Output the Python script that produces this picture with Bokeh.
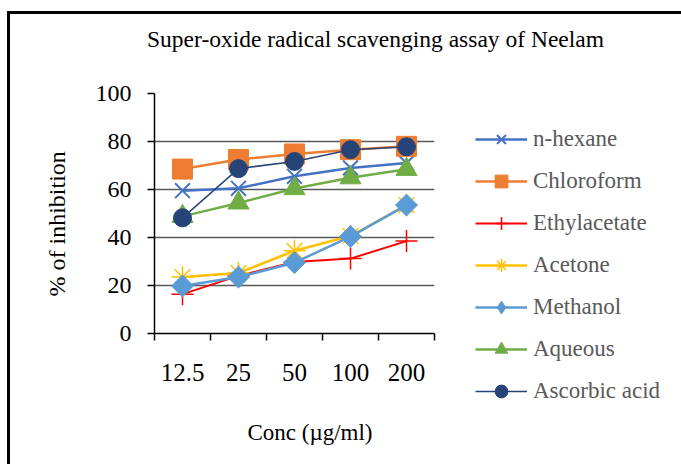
import numpy as np
from bokeh.plotting import figure
from bokeh.layouts import column, row
from bokeh.models import (Range1d, FixedTicker, Legend, LegendItem, Title, Label,
                          InlineStyleSheet)
from bokeh.embed import file_html
from bokeh.resources import INLINE

# ---- data ----
conc = ["12.5", "25", "50", "100", "200"]
n_hexane = [59.5, 60.5, 65.5, 69, 71]
chloroform = [68.5, 72.5, 74.8, 76.6, 78]
ethylacetate = [16.4, 24, 29.8, 31.2, 38.5]
acetone = [23.5, 25.2, 34.5, 40.6, 53.5]
methanol = [19.8, 23.5, 29.5, 40.4, 53.5]
aqueous = [48.8, 54.4, 60.4, 64.9, 68.4]
ascorbic = [48.2, 68.7, 71.7, 76.6, 77.8]

names = ["n-hexane", "Chloroform", "Ethylacetate", "Acetone", "Methanol",
         "Aqueous", "Ascorbic acid"]
series = [n_hexane, chloroform, ethylacetate, acetone, methanol, aqueous, ascorbic]
colors = ["#4472C4", "#ED7D31", "#FF0000", "#FFC000", "#5B9BD5", "#70AD47", "#264478"]
markers = ["x", "square", "cross", "asterisk", "square", "triangle", "circle"]
leg_markers = ["x", "square", "cross", "asterisk", "diamond", "triangle", "circle"]
msizes = [21, 20, 22, 22, 15.5, 21, 18]
angles = [0, 0, 0, 0, np.pi / 4, 0, 0]
lwidths = [2.5, 2.5, 2, 2.5, 2.5, 2.5, 1.5]
mline = [2, 1, 1.5, 1.5, 1, 1, 1]

FONT = "Liberation Serif"
title_text = "Super-oxide radical scavenging assay of Neelam"
xlabel_text = "Conc (µg/ml)"
ylabel_text = "% of inhibition"

x = np.arange(len(conc)) + 0.5


def blank(fig):
    fig.outline_line_color = None
    fig.background_fill_color = "white"
    fig.border_fill_color = "white"
    fig.min_border = 0
    fig.grid.visible = False
    if "frame_align" in fig.properties():
        fig.frame_align = False


def strip(w, h):
    f = figure(width=w, height=h, output_backend="svg", toolbar_location=None,
               x_range=Range1d(0, 1), y_range=Range1d(0, 1),
               x_axis_type=None, y_axis_type=None)
    blank(f)
    return f


# ---- title strip ----
top = strip(681, 60)
top.add_layout(Label(x=375, y=22, x_units="screen", y_units="screen",
                     text=title_text, text_font=FONT, text_font_size="23.5px",
                     text_color="black", text_align="center",
                     text_baseline="middle"))

# ---- main chart ----
p = figure(width=454, height=350, output_backend="svg", toolbar_location=None,
           x_range=Range1d(0, len(conc)), y_range=Range1d(0, 100),
           min_border_left=154, min_border_right=20, min_border_top=33,
           min_border_bottom=77)
p.outline_line_color = None
p.background_fill_color = "white"
p.border_fill_color = "white"
if "frame_align" in p.properties():
    p.frame_align = False

p.xaxis.ticker = FixedTicker(ticks=list(x), minor_ticks=list(range(len(conc) + 1)))
p.xaxis.major_label_overrides = {float(xx): c for xx, c in zip(x, conc)}
p.xaxis.major_tick_out = 0
p.xaxis.major_tick_in = 0
p.xaxis.minor_tick_out = 7
p.xaxis.minor_tick_in = 0
p.xaxis.minor_tick_line_color = "black"
p.xaxis.minor_tick_line_width = 1.5
p.xaxis.axis_line_color = "black"
p.xaxis.axis_line_width = 1.5
p.xaxis.major_label_text_font = FONT
p.xaxis.major_label_text_font_size = "25px"
p.xaxis.major_label_text_color = "black"
p.xaxis.major_label_standoff = 23

p.yaxis.ticker = FixedTicker(ticks=[0, 20, 40, 60, 80, 100])
p.yaxis.major_tick_out = 7
p.yaxis.major_tick_in = 0
p.yaxis.minor_tick_out = 0
p.yaxis.minor_tick_in = 0
p.yaxis.major_tick_line_color = "black"
p.yaxis.major_tick_line_width = 1.5
p.yaxis.axis_line_color = "black"
p.yaxis.axis_line_width = 1.5
p.yaxis.major_label_text_font = FONT
p.yaxis.major_label_text_font_size = "24px"
p.yaxis.major_label_text_color = "black"
p.yaxis.major_label_standoff = 16

p.xgrid.grid_line_color = None
p.ygrid.grid_line_color = "#595959"
p.ygrid.grid_line_width = 1.5

for ys, col, mk, ms, ang, lw, ml in zip(series, colors, markers, msizes, angles,
                                        lwidths, mline):
    p.line(x, ys, line_color=col, line_width=lw)
    p.scatter(x, ys, marker=mk, size=ms, angle=ang, fill_color=col,
              line_color=col, line_width=ml)

p.add_layout(Title(text=ylabel_text, align="left", offset=37, standoff=45,
                   text_font=FONT, text_font_size="24px", text_color="black",
                   text_font_style="normal"), "left")

# ---- legend panel (proxy renderers hold no visible points) ----
leg = strip(227, 350)
items = []
nan = [float("nan")]
for name, col, mk, lw, ml in zip(names, colors, leg_markers, lwidths, mline):
    r1 = leg.line(nan, nan, line_color=col, line_width=lw)
    r2 = leg.scatter(nan, nan, marker=mk, fill_color=col,
                     line_color=col, line_width=ml)
    items.append(LegendItem(label=name, renderers=[r1, r2]))
legend = Legend(items=items, location=(21, 3), orientation="vertical",
                glyph_width=52, glyph_height=32, label_height=32, spacing=10,
                padding=0, margin=0, label_standoff=6,
                label_text_font=FONT, label_text_font_size="23px",
                label_text_color="#595959", border_line_color=None,
                background_fill_alpha=0)
leg.add_layout(legend, "center")

# ---- x-axis title strip ----
bottom = strip(681, 54)
bottom.add_layout(Label(x=309.5, y=32, x_units="screen", y_units="screen",
                        text=xlabel_text, text_font=FONT, text_font_size="23px",
                        text_color="black", text_align="center",
                        text_baseline="middle"))

border_css = InlineStyleSheet(css="""
:host { position: relative; }
:host::after {
  content: ""; position: absolute; left: 7px; top: 11px; right: 0; bottom: 0;
  border-left: 3px solid black; border-top: 3px solid black;
  pointer-events: none; z-index: 10;
}
""")

layout = column(top, row(p, column(leg, spacing=0), spacing=0), bottom,
                spacing=0, stylesheets=[border_css])

open("out.html", "w").write(file_html(layout, INLINE))
